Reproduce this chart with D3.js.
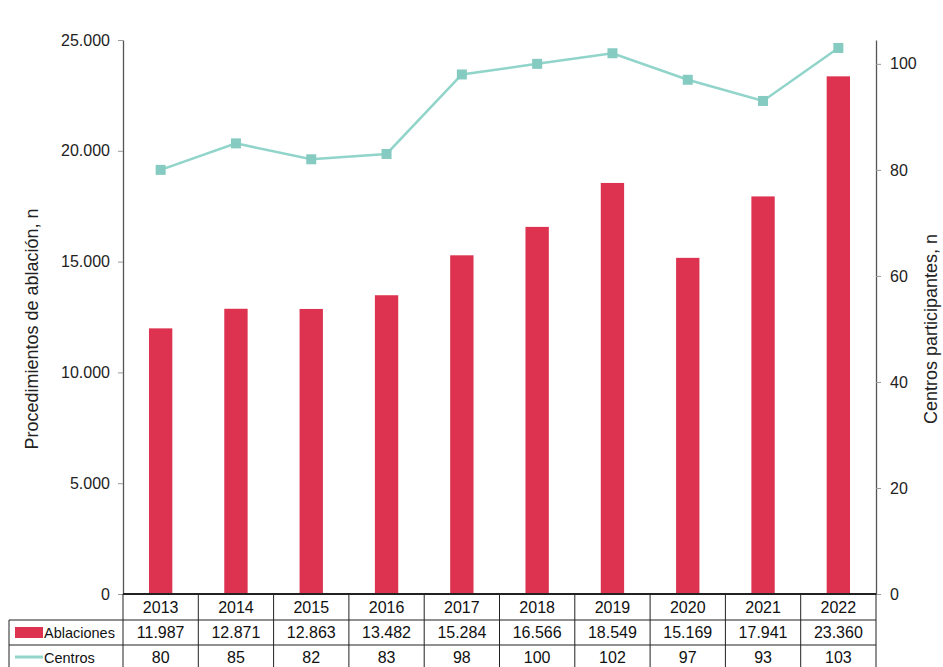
<!DOCTYPE html>
<html>
<head>
<meta charset="utf-8">
<script src="https://cdn.jsdelivr.net/npm/d3@7"></script>
<style>
  body { margin: 0; background: #fff; }
  svg { font-family: "Liberation Sans", Arial, sans-serif; }
</style>
</head>
<body>
<svg id="chart" width="943" height="667"></svg>
<script>
const years = ['2013', '2014', '2015', '2016', '2017', '2018', '2019', '2020', '2021', '2022'];
const ablaciones = [11987, 12871, 12863, 13482, 15284, 16566, 18549, 15169, 17941, 23360];
const centros = [80, 85, 82, 83, 98, 100, 102, 97, 93, 103];
const leftTicks = [0, 5000, 10000, 15000, 20000, 25000];
const rightTicks = [0, 20, 40, 60, 80, 100];

const barColor = '#dd3350';
const lineColor = '#90d4ca';

let svg = d3.select('#chart');

let margin = { left: 123, right: 67, top: 40, bottom: 73 };
let width = 943, height = 667;

let x = d3.scaleBand()
  .domain(years)
  .range([margin.left, width - margin.right])
  .paddingInner(0.69)
  .paddingOuter(0.345);

let step = x.step();
let yL = d3.scaleLinear().domain([0, 25000]).range([height - margin.bottom, margin.top]);
let yR = d3.scaleLinear().domain([0, 104.5]).range([height - margin.bottom, margin.top]);

let fmt = d3.formatLocale({ decimal: ',', thousands: '.', grouping: [3], currency: ['', ''] }).format(',d');

// bars
svg.append('g')
  .attr('fill', barColor)
  .selectAll('rect').data(years).enter().append('rect')
  .attr('x', d => x(d))
  .attr('y', (d, i) => yL(ablaciones[i]))
  .attr('width', x.bandwidth())
  .attr('height', (d, i) => yL(0) - yL(ablaciones[i]));

// line
let cx = d => x(d) + x.bandwidth() / 2;
svg.append('path')
  .datum(years)
  .attr('fill', 'none')
  .attr('stroke', lineColor)
  .attr('stroke-width', 2.5)
  .attr('d', d3.line().x(cx).y((d, i) => yR(centros[i])));

svg.append('g')
  .attr('fill', '#86cbc1')
  .selectAll('rect').data(years).enter().append('rect')
  .attr('x', d => cx(d) - 5)
  .attr('y', (d, i) => yR(centros[i]) - 5)
  .attr('width', 10)
  .attr('height', 10);

// axes
let leftAxis = d3.axisLeft(yL).tickValues(leftTicks).tickFormat(fmt).tickSize(5).tickSizeOuter(0);
let rightAxis = d3.axisRight(yR).tickValues(rightTicks).tickSize(5).tickSizeOuter(0);

let gl = svg.append('g')
  .attr('transform', `translate(${margin.left},0)`)
  .call(leftAxis);
let gr = svg.append('g')
  .attr('transform', `translate(${width - margin.right},0)`)
  .call(rightAxis);

[gl, gr].forEach(g => {
  g.select('.domain').attr('stroke', '#555').attr('stroke-width', 1.3);
  g.selectAll('.tick line').attr('stroke', '#999');
  g.selectAll('.tick text').attr('font-size', 16).attr('fill', '#222')
    .attr('font-family', '"Liberation Sans", Arial, sans-serif');
});
gl.selectAll('.tick text').attr('x', -13);
gr.selectAll('.tick text').attr('x', 14);

svg.append('text')
  .attr('transform', `translate(38,329) rotate(-90)`)
  .attr('text-anchor', 'middle')
  .attr('font-size', 18)
  .attr('fill', '#222')
  .text('Procedimientos de ablación, n');

svg.append('text')
  .attr('transform', `translate(937,329) rotate(-90)`)
  .attr('text-anchor', 'middle')
  .attr('font-size', 18)
  .attr('fill', '#222')
  .text('Centros participantes, n');

// data table
let y0 = height - margin.bottom;
let rowH = [26, 25, 25];
let rowY = [y0, y0 + rowH[0], y0 + rowH[0] + rowH[1], y0 + rowH[0] + rowH[1] + rowH[2]];
let left = 9;
let tbl = svg.append('g').attr('stroke', '#222').attr('stroke-width', 1);

tbl.append('line').attr('x1', margin.left).attr('x2', width - margin.right)
  .attr('y1', y0).attr('y2', y0).attr('stroke-width', 2);
[1, 2, 3].forEach(r => {
  tbl.append('line')
    .attr('x1', left).attr('x2', width - margin.right)
    .attr('y1', rowY[r]).attr('y2', rowY[r]);
});
tbl.append('line').attr('x1', left).attr('x2', left).attr('y1', rowY[1]).attr('y2', rowY[3]);
tbl.selectAll('line.v').data(d3.range(years.length + 1)).enter().append('line')
  .attr('class', 'v')
  .attr('x1', i => margin.left + i * step).attr('x2', i => margin.left + i * step)
  .attr('y1', y0).attr('y2', rowY[3]);

let cells = svg.append('g')
  .attr('font-size', 16)
  .attr('fill', '#111')
  .attr('text-anchor', 'middle');

cells.selectAll('text.yr').data(years).enter().append('text')
  .attr('class', 'yr')
  .attr('x', cx).attr('y', rowY[0] + 19)
  .text(d => d);
cells.selectAll('text.ab').data(years).enter().append('text')
  .attr('class', 'ab')
  .attr('x', cx).attr('y', rowY[1] + 18)
  .text((d, i) => fmt(ablaciones[i]));
cells.selectAll('text.ce').data(years).enter().append('text')
  .attr('class', 'ce')
  .attr('x', cx).attr('y', rowY[2] + 18)
  .text((d, i) => centros[i]);

// legend keys in table header
svg.append('rect')
  .attr('x', 15).attr('y', rowY[1] + 7).attr('width', 28).attr('height', 11)
  .attr('fill', barColor);
svg.append('line')
  .attr('x1', 15).attr('x2', 43).attr('y1', rowY[2] + 12).attr('y2', rowY[2] + 12)
  .attr('stroke', lineColor).attr('stroke-width', 3);
svg.append('text').attr('x', 44).attr('y', rowY[1] + 18)
  .attr('font-size', 14.5).attr('fill', '#111').text('Ablaciones');
svg.append('text').attr('x', 44).attr('y', rowY[2] + 18)
  .attr('font-size', 14.5).attr('fill', '#111').text('Centros');
</script>
</body>
</html>
